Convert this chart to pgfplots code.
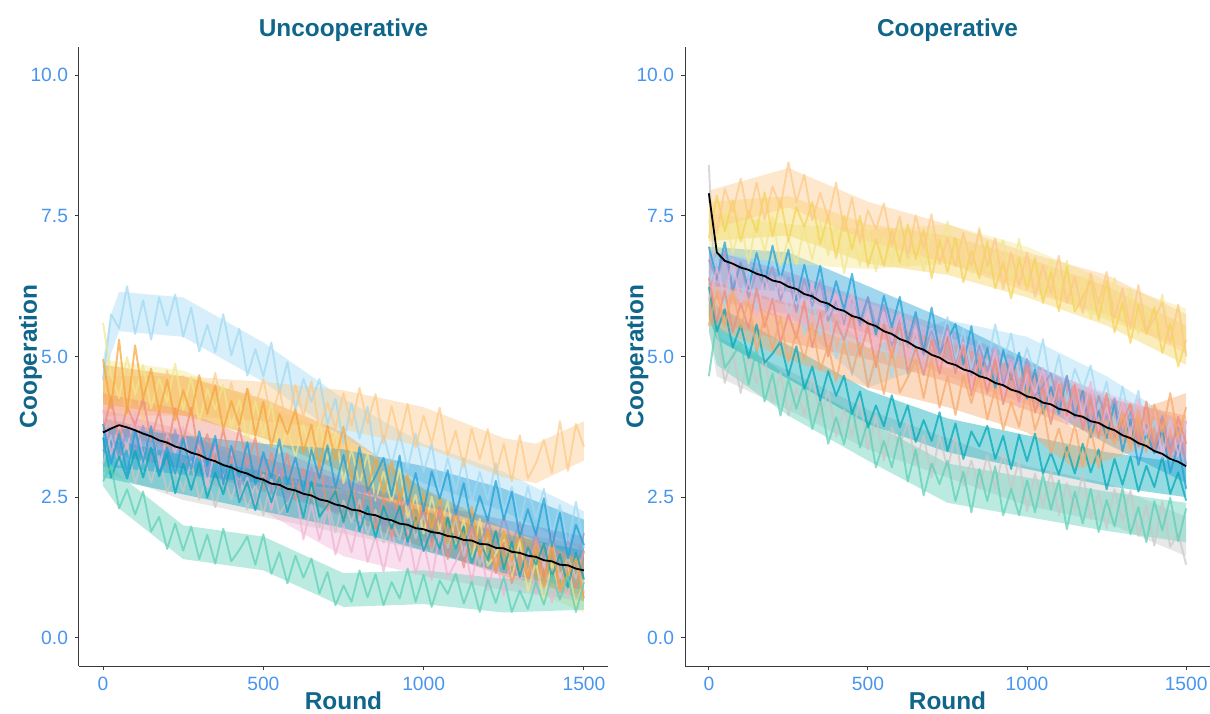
\documentclass[border=0pt]{standalone}
\usepackage{fontspec}
\setmainfont{Liberation Sans}
\usepackage{pgfplots}
\pgfplotsset{compat=1.18}

\definecolor{titleblue}{HTML}{0F668A}
\definecolor{tickblue}{HTML}{4895EF}
\definecolor{axisgray}{HTML}{3A3A3A}
\definecolor{cLightblue}{HTML}{9FD9F3}
\definecolor{cOrange}{HTML}{F5A53A}
\definecolor{cPeach}{HTML}{FDC987}
\definecolor{cYellow}{HTML}{F2E68D}
\definecolor{cGold}{HTML}{F5D35A}
\definecolor{cPink}{HTML}{F0B3D3}
\definecolor{cSalmon}{HTML}{EE8C7C}
\definecolor{cBlue}{HTML}{1F9FD6}
\definecolor{cTeal}{HTML}{00A8B8}
\definecolor{cGray}{HTML}{C8C8C8}
\definecolor{cMint}{HTML}{5CCFB6}
\definecolor{cPurple}{HTML}{9D97CB}
\definecolor{cOrangeB}{HTML}{F6A86A}

\pgfplotsset{
  panel/.style={
    scale only axis, anchor=south west, height=309.5pt,
    xmin=-75, xmax=1575, ymin=-0.5, ymax=10.5,
    axis lines=left,
    axis line style={-, draw=axisgray, line width=0.5pt},
    tick style={draw=axisgray, line width=0.5pt},
    tick align=outside, major tick length=2pt,
    xtick={0,500,1000,1500},
    xticklabels={0,500,1000,1500},
    ytick={0,2.5,5,7.5,10},
    yticklabels={0.0,2.5,5.0,7.5,10.0},
    /pgf/number format/assume math mode=true,
    ticklabel style={font=\fontsize{9.6}{10}\selectfont, text=tickblue},
    title style={font=\fontsize{12.2}{14}\selectfont\bfseries, text=titleblue,
      at={(axis description cs:0.5,1)}, anchor=base, yshift=-1pt},
    label style={font=\fontsize{12.2}{14}\selectfont\bfseries, text=titleblue},
    xlabel=Round, ylabel=Cooperation,
    xlabel style={at={(axis description cs:0.5,-0.0705)}, anchor=base},
    ylabel style={at={(axis description cs:-0.0794,0.5)}, anchor=base},
  },
  run/.style={#1, opacity=0.72, line width=0.95pt, line join=round},
  band/.style={fill=#1, fill opacity=0.42, draw=none},
  avg/.style={black, line width=0.9pt, line join=round},
}

\begin{document}
\begin{tikzpicture}
\useasboundingbox (0,0) rectangle (605pt,356.5pt);

% ---- left panel ----
\begin{axis}[panel, at={(39.5pt,23.5pt)}, width=264.5pt, title=Uncooperative]
% bands: spread of each run
\addplot[band=cLightblue] coordinates {(0,4.95)(25,5.75)(50,6.15)(250,6.05)(500,5.25)(750,4.25)(1000,3.45)(1250,2.95)(1500,2.25)(1500,1.55)(1250,2.25)(1000,2.75)(750,3.55)(500,4.55)(250,5.35)(50,5.45)(25,5.05)(0,4.25)} -- cycle;
\addplot[band=cGray] coordinates {(0,3.65)(250,3.15)(500,2.85)(750,2.55)(1000,2.25)(1250,1.9)(1500,1.65)(1500,0.95)(1250,1.2)(1000,1.55)(750,1.85)(500,2.15)(250,2.45)(0,2.95)} -- cycle;
\addplot[band=cPeach] coordinates {(0,4.65)(250,4.65)(500,4.55)(750,4.4)(1000,4.1)(1250,3.55)(1350,3.45)(1500,3.85)(1500,3.15)(1350,2.75)(1250,2.85)(1000,3.4)(750,3.7)(500,3.85)(250,3.95)(0,3.95)} -- cycle;
\addplot[band=cYellow] coordinates {(0,4.95)(250,4.75)(500,4.15)(750,3.55)(1000,2.65)(1250,1.75)(1500,1.15)(1500,0.45)(1250,1.05)(1000,1.95)(750,2.85)(500,3.45)(250,4.05)(0,4.25)} -- cycle;
\addplot[band=cPink] coordinates {(0,4.05)(250,3.7)(500,2.95)(750,2.15)(1000,1.8)(1250,1.55)(1500,1.35)(1500,0.65)(1250,0.85)(1000,1.1)(750,1.45)(500,2.25)(250,3.0)(0,3.35)} -- cycle;
\addplot[band=cPurple] coordinates {(0,3.9)(250,3.6)(500,3.2)(750,2.8)(1000,2.4)(1250,2.1)(1500,1.8)(1500,1.2)(1250,1.5)(1000,1.8)(750,2.2)(500,2.6)(250,3.0)(0,3.3)} -- cycle;
\addplot[band=cSalmon] coordinates {(0,4.35)(250,4.05)(500,3.45)(750,2.85)(1000,2.3)(1250,1.8)(1500,1.45)(1500,0.75)(1250,1.1)(1000,1.6)(750,2.15)(500,2.75)(250,3.35)(0,3.65)} -- cycle;
\addplot[band=cTeal] coordinates {(0,3.55)(250,3.25)(500,2.95)(750,2.65)(1000,2.25)(1250,1.85)(1500,1.55)(1500,0.85)(1250,1.15)(1000,1.55)(750,1.95)(500,2.25)(250,2.55)(0,2.85)} -- cycle;
\addplot[band=cOrange] coordinates {(0,4.85)(250,4.65)(500,4.25)(750,3.65)(1000,2.65)(1250,1.95)(1500,1.35)(1500,0.65)(1250,1.25)(1000,1.95)(750,2.95)(500,3.55)(250,3.95)(0,4.15)} -- cycle;
\addplot[band=cBlue] coordinates {(0,3.75)(250,3.6)(500,3.45)(750,3.35)(1000,3.05)(1250,2.65)(1500,2.1)(1500,1.4)(1250,1.95)(1000,2.35)(750,2.65)(500,2.75)(250,2.9)(0,3.05)} -- cycle;
\addplot[band=cMint] coordinates {(0,3.3)(50,2.9)(250,2.0)(500,1.8)(750,1.15)(1000,1.2)(1250,1.05)(1500,1.1)(1500,0.5)(1250,0.45)(1000,0.6)(750,0.55)(500,1.2)(250,1.4)(50,2.3)(0,2.7)} -- cycle;
% runs
\addplot[run=cLightblue] coordinates {(0,4.6)(25,5.75)(50,5.5)(75,6.25)(100,5.4)(125,6.0)(150,5.3)(175,6.05)(200,5.55)(225,6.1)(250,5.35)(275,5.87)(300,5.09)(325,5.56)(350,5.08)(375,5.75)(400,5.02)(425,5.49)(450,4.66)(475,5.13)(500,4.65)(525,5.25)(550,4.35)(575,4.9)(600,4.05)(625,4.6)(650,4.2)(675,4.6)(700,3.8)(725,4.25)(750,3.45)(775,4.17)(800,3.54)(825,4.11)(850,3.18)(875,3.6)(900,3.07)(925,3.64)(950,3.01)(975,3.63)(1000,2.95)(1025,3.45)(1050,2.55)(1075,3.2)(1100,2.6)(1125,3.2)(1150,2.4)(1175,2.95)(1200,2.45)(1225,3.1)(1250,2.25)(1275,2.68)(1300,2.01)(1325,2.69)(1350,2.12)(1375,2.65)(1400,1.83)(1425,2.36)(1450,1.64)(1475,2.42)(1500,1.6)};
\addplot[run=cGray] coordinates {(0,3.1)(25,3.61)(50,3.08)(75,3.47)(100,2.74)(125,3.25)(150,2.76)(175,3.23)(200,2.58)(225,3.01)(250,2.6)(275,3.13)(300,2.46)(325,2.83)(350,2.32)(375,2.89)(400,2.46)(425,2.91)(450,2.28)(475,2.73)(500,2.18)(525,2.83)(550,2.2)(575,2.41)(600,2.66)(625,2.11)(650,2.68)(675,1.97)(700,2.42)(725,1.87)(750,2.44)(775,2.05)(800,2.46)(825,1.83)(850,2.28)(875,1.69)(900,2.1)(925,1.75)(950,2.32)(975,1.77)(1000,2.18)(1025,1.55)(1050,1.95)(1075,1.6)(1100,2.12)(1125,1.45)(1150,1.93)(1175,1.3)(1200,1.78)(1225,1.51)(1250,1.87)(1275,1.29)(1300,1.7)(1325,1.12)(1350,1.73)(1375,1.27)(1400,1.76)(1425,1.06)(1450,1.43)(1475,1.05)(1500,1.54)};
\addplot[run=cPeach] coordinates {(0,4.6)(25,4.15)(50,4.7)(75,3.95)(100,4.55)(125,3.85)(150,4.4)(175,4.0)(200,4.75)(225,4.1)(250,4.65)(275,3.89)(300,4.43)(325,4.02)(350,4.71)(375,3.9)(400,4.54)(425,3.78)(450,4.42)(475,4.11)(500,4.6)(525,3.89)(550,4.42)(575,3.71)(600,4.49)(625,3.93)(650,4.56)(675,3.7)(700,4.18)(725,3.72)(750,4.35)(775,3.77)(800,4.44)(825,3.81)(850,4.33)(875,3.45)(900,4.12)(925,3.54)(950,4.16)(975,3.38)(1000,3.95)(1025,3.45)(1050,4.09)(1075,3.24)(1100,3.68)(1125,3.03)(1150,3.72)(1175,3.17)(1200,3.71)(1225,2.91)(1250,3.45)(1275,2.78)(1300,3.6)(1325,2.83)(1350,3.1)(1375,3.52)(1400,2.93)(1425,3.85)(1450,2.97)(1475,3.8)(1500,3.4)};
\addplot[run=cYellow] coordinates {(0,5.6)(25,4.68)(50,4.26)(75,4.99)(100,4.32)(125,4.85)(150,4.08)(175,4.61)(200,4.19)(225,4.87)(250,4.05)(275,4.64)(300,3.83)(325,4.42)(350,4.06)(375,4.5)(400,3.74)(425,4.23)(450,3.47)(475,4.21)(500,3.6)(525,4.19)(550,3.28)(575,3.72)(600,3.21)(625,3.8)(650,3.19)(675,3.83)(700,3.17)(725,3.66)(750,2.75)(775,3.36)(800,2.72)(825,3.28)(850,2.44)(875,2.95)(900,2.41)(925,3.02)(950,2.13)(975,2.54)(1000,1.85)(1025,2.51)(1050,1.92)(1075,2.43)(1100,1.59)(1125,2.1)(1150,1.36)(1175,2.12)(1200,1.28)(1225,1.49)(1250,1.75)(1275,1.04)(1300,1.73)(1325,0.82)(1350,1.36)(1375,0.65)(1400,1.34)(1425,0.83)(1450,1.32)(1475,0.51)(1500,1.05)};
\addplot[run=cPink] coordinates {(0,4.05)(25,3.27)(50,3.78)(75,3.35)(100,4.01)(125,3.18)(150,3.79)(175,3.01)(200,3.62)(225,3.29)(250,3.75)(275,2.98)(300,3.45)(325,2.68)(350,3.4)(375,2.78)(400,3.35)(425,2.43)(450,2.85)(475,2.33)(500,2.9)(525,2.27)(550,2.89)(575,2.21)(600,2.68)(625,1.75)(650,2.37)(675,1.74)(700,2.31)(725,1.48)(750,2.0)(775,1.52)(800,2.18)(825,1.35)(850,1.81)(875,1.18)(900,1.89)(925,1.36)(950,1.92)(975,1.14)(1000,1.7)(1025,1.03)(1050,1.85)(1075,1.08)(1100,1.35)(1125,1.68)(1150,1.0)(1175,1.73)(1200,0.85)(1225,1.43)(1250,0.75)(1275,1.48)(1300,1.01)(1325,1.54)(1350,0.77)(1375,1.35)(1400,0.63)(1425,1.16)(1450,0.74)(1475,1.47)(1500,0.8)};
\addplot[run=cPurple] coordinates {(0,3.32)(25,3.69)(50,3.18)(75,3.75)(100,3.32)(125,3.77)(150,3.14)(175,3.59)(200,3.04)(225,3.69)(250,3.06)(275,3.26)(300,3.5)(325,2.94)(350,3.5)(375,2.78)(400,3.22)(425,2.66)(450,3.22)(475,2.82)(500,3.22)(525,2.58)(550,3.02)(575,2.42)(600,2.82)(625,2.46)(650,3.02)(675,2.46)(700,2.86)(725,2.22)(750,2.62)(775,2.26)(800,2.78)(825,2.1)(850,2.58)(875,1.94)(900,2.42)(925,2.14)(950,2.5)(975,1.9)(1000,2.3)(1025,1.71)(1050,2.32)(1075,1.85)(1100,2.34)(1125,1.63)(1150,2.0)(1175,1.61)(1200,2.1)(1225,1.63)(1250,2.16)(1275,1.65)(1300,2.06)(1325,1.35)(1350,1.88)(1375,1.41)(1400,1.9)(1425,1.27)(1450,1.72)(1475,1.33)(1500,1.86)};
\addplot[run=cSalmon] coordinates {(0,3.65)(25,4.27)(50,3.49)(75,4.11)(100,3.78)(125,4.25)(150,3.52)(175,4.04)(200,3.31)(225,4.08)(250,3.5)(275,4.09)(300,3.18)(325,3.62)(350,3.11)(375,3.7)(400,3.09)(425,3.73)(450,3.07)(475,3.56)(500,2.65)(525,3.29)(550,2.68)(575,3.27)(600,2.46)(625,3.0)(650,2.49)(675,3.13)(700,2.27)(725,2.71)(750,2.05)(775,2.75)(800,2.19)(825,2.74)(850,1.93)(875,2.48)(900,1.77)(925,2.57)(950,1.76)(975,2.01)(1000,2.3)(1025,1.6)(1050,2.3)(1075,1.4)(1100,1.95)(1125,1.25)(1150,1.95)(1175,1.45)(1200,1.95)(1225,1.15)(1250,1.7)(1275,0.97)(1300,1.48)(1325,1.05)(1350,1.76)(1375,1.08)(1400,1.59)(1425,0.81)(1450,1.32)(1475,0.89)(1500,1.55)};
\addplot[run=cTeal] coordinates {(0,3.56)(25,2.85)(50,3.22)(75,2.83)(100,3.32)(125,2.85)(150,3.38)(175,2.87)(200,3.28)(225,2.57)(250,3.1)(275,2.63)(300,3.12)(325,2.49)(350,2.94)(375,2.55)(400,3.08)(425,2.41)(450,2.78)(475,2.27)(500,2.84)(525,2.41)(550,2.86)(575,2.23)(600,2.68)(625,2.13)(650,2.78)(675,2.15)(700,2.36)(725,2.61)(750,2.06)(775,2.62)(800,1.9)(825,2.34)(850,1.78)(875,2.34)(900,1.94)(925,2.34)(950,1.7)(975,2.14)(1000,1.54)(1025,1.94)(1050,1.58)(1075,2.14)(1100,1.58)(1125,1.98)(1150,1.34)(1175,1.74)(1200,1.38)(1225,1.9)(1250,1.22)(1275,1.71)(1300,1.08)(1325,1.61)(1350,1.3)(1375,1.67)(1400,1.08)(1425,1.49)(1450,0.9)(1475,1.51)(1500,1.04)};
\addplot[run=cOrange] coordinates {(0,4.95)(25,4.08)(50,5.3)(75,3.99)(100,5.2)(125,4.25)(150,4.78)(175,4.01)(200,4.59)(225,3.87)(250,4.4)(275,3.96)(300,4.67)(325,3.98)(350,4.49)(375,3.7)(400,4.21)(425,3.77)(450,4.43)(475,3.59)(500,4.2)(525,3.39)(550,3.98)(575,3.62)(600,4.06)(625,3.3)(650,3.79)(675,3.03)(700,3.77)(725,3.16)(750,3.75)(775,2.8)(800,3.2)(825,2.65)(850,3.2)(875,2.55)(900,3.15)(925,2.45)(950,2.9)(975,1.95)(1000,2.55)(1025,1.93)(1050,2.51)(1075,1.69)(1100,2.22)(1125,1.7)(1150,2.33)(1175,1.46)(1200,1.89)(1225,1.22)(1250,1.9)(1275,1.34)(1300,1.88)(1325,1.07)(1350,1.61)(1375,0.9)(1400,1.69)(1425,0.88)(1450,1.12)(1475,1.41)(1500,0.7)};
\addplot[run=cBlue] coordinates {(0,3.8)(25,3.09)(50,3.62)(75,2.91)(100,3.69)(125,3.13)(150,3.76)(175,2.9)(200,3.38)(225,2.92)(250,3.55)(275,2.99)(300,3.67)(325,3.06)(350,3.59)(375,2.73)(400,3.41)(425,2.85)(450,3.48)(475,2.72)(500,3.3)(525,2.84)(550,3.53)(575,2.72)(600,3.21)(625,2.6)(650,3.34)(675,2.83)(700,3.42)(725,2.66)(750,3.25)(775,2.57)(800,3.39)(825,2.61)(850,2.88)(875,3.2)(900,2.52)(925,3.24)(950,2.36)(975,2.93)(1000,2.25)(1025,2.96)(1050,2.47)(1075,2.98)(1100,2.19)(1125,2.75)(1150,2.01)(1175,2.52)(1200,2.08)(1225,2.79)(1250,2.1)(1275,2.6)(1300,1.79)(1325,2.29)(1350,1.83)(1375,2.48)(1400,1.62)(1425,2.22)(1450,1.41)(1475,2.01)(1500,1.65)};
\addplot[run=cMint] coordinates {(0,2.78)(25,3.06)(50,2.3)(75,2.64)(100,2.19)(125,2.6)(150,1.89)(175,2.15)(200,1.58)(225,2.03)(250,1.55)(275,1.98)(300,1.4)(325,1.83)(350,1.32)(375,1.94)(400,1.36)(425,1.56)(450,1.8)(475,1.3)(500,1.84)(525,1.14)(550,1.52)(575,0.97)(600,1.46)(625,1.07)(650,1.41)(675,0.79)(700,1.17)(725,0.58)(750,0.93)(775,0.64)(800,1.2)(825,0.72)(850,1.13)(875,0.58)(900,0.99)(925,0.7)(950,1.23)(975,0.64)(1000,1.12)(1025,0.55)(1050,1.02)(1075,0.78)(1100,1.14)(1125,0.61)(1150,1.0)(1175,0.46)(1200,1.04)(1225,0.62)(1250,1.09)(1275,0.46)(1300,0.84)(1325,0.51)(1350,0.99)(1375,0.59)(1400,1.12)(1425,0.68)(1450,1.09)(1475,0.46)(1500,0.99)};
\addplot[avg] coordinates {(0,3.65)(25,3.72)(50,3.78)(75,3.74)(100,3.69)(125,3.63)(150,3.58)(175,3.51)(200,3.47)(225,3.40)(250,3.36)(275,3.29)(300,3.25)(325,3.18)(350,3.14)(375,3.07)(400,3.03)(425,2.96)(450,2.92)(475,2.85)(500,2.81)(525,2.74)(550,2.72)(575,2.65)(600,2.62)(625,2.56)(650,2.53)(675,2.46)(700,2.43)(725,2.37)(750,2.34)(775,2.28)(800,2.26)(825,2.2)(850,2.18)(875,2.12)(900,2.09)(925,2.03)(950,2.01)(975,1.95)(1000,1.93)(1025,1.88)(1050,1.86)(1075,1.81)(1100,1.79)(1125,1.74)(1150,1.73)(1175,1.67)(1200,1.66)(1225,1.6)(1250,1.59)(1275,1.53)(1300,1.51)(1325,1.46)(1350,1.44)(1375,1.38)(1400,1.36)(1425,1.3)(1450,1.29)(1475,1.23)(1500,1.2)};
\end{axis}

% ---- right panel ----
\begin{axis}[panel, at={(342.5pt,23.5pt)}, width=262.5pt, title=Cooperative]
% bands: spread of each run
\addplot[band=cGray] coordinates {(0,6.15)(25,5.35)(250,4.75)(500,4.05)(750,3.55)(1000,3.05)(1250,2.75)(1500,2.15)(1500,1.45)(1250,2.05)(1000,2.35)(750,2.85)(500,3.35)(250,4.05)(25,4.65)(0,5.45)} -- cycle;
\addplot[band=cMint] coordinates {(0,6.15)(25,5.55)(250,4.65)(500,3.85)(750,3.1)(1000,2.85)(1250,2.6)(1500,2.4)(1500,1.7)(1250,1.9)(1000,2.15)(750,2.4)(500,3.15)(250,3.95)(25,4.85)(0,5.45)} -- cycle;
\addplot[band=cTeal] coordinates {(0,6.3)(25,5.9)(250,5.2)(500,4.4)(750,3.9)(1000,3.6)(1250,3.3)(1500,3.1)(1500,2.5)(1250,2.7)(1000,3.0)(750,3.3)(500,3.8)(250,4.6)(25,5.3)(0,5.7)} -- cycle;
\addplot[band=cLightblue] coordinates {(0,6.75)(250,6.45)(500,5.15)(750,5.65)(1000,5.35)(1250,4.65)(1500,3.75)(1500,3.05)(1250,3.95)(1000,4.65)(750,4.95)(500,4.45)(250,5.75)(0,6.05)} -- cycle;
\addplot[band=cBlue] coordinates {(0,6.95)(250,6.85)(500,6.25)(750,5.65)(1000,4.95)(1250,4.15)(1500,3.45)(1500,2.75)(1250,3.45)(1000,4.25)(750,4.95)(500,5.55)(250,6.15)(0,6.25)} -- cycle;
\addplot[band=cPurple] coordinates {(0,6.9)(250,6.5)(500,6.0)(750,5.5)(1000,4.9)(1250,4.3)(1500,3.7)(1500,3.1)(1250,3.7)(1000,4.3)(750,4.9)(500,5.4)(250,5.9)(0,6.3)} -- cycle;
\addplot[band=cPink] coordinates {(0,6.75)(250,6.35)(500,5.95)(750,5.35)(1000,4.85)(1250,4.35)(1500,3.85)(1500,3.15)(1250,3.65)(1000,4.15)(750,4.65)(500,5.25)(250,5.65)(0,6.05)} -- cycle;
\addplot[band=cSalmon] coordinates {(0,6.35)(250,5.95)(500,5.65)(750,5.25)(1000,4.75)(1250,4.25)(1500,3.95)(1500,3.25)(1250,3.55)(1000,4.05)(750,4.55)(500,4.95)(250,5.25)(0,5.65)} -- cycle;
\addplot[band=cOrangeB] coordinates {(0,6.25)(250,5.65)(500,5.15)(750,4.8)(1000,4.35)(1150,3.7)(1250,3.85)(1500,4.35)(1500,3.65)(1250,3.15)(1150,3.0)(1000,3.65)(750,4.1)(500,4.45)(250,4.95)(0,5.55)} -- cycle;
\addplot[band=cYellow] coordinates {(0,7.55)(250,7.35)(500,7.25)(750,7.35)(1000,6.95)(1250,6.35)(1500,5.85)(1500,5.15)(1250,5.65)(1000,6.25)(750,6.65)(500,6.55)(250,6.65)(0,6.85)} -- cycle;
\addplot[band=cGold] coordinates {(0,7.75)(250,7.85)(500,7.35)(750,7.15)(1000,6.75)(1250,6.25)(1500,5.55)(1500,4.85)(1250,5.55)(1000,6.05)(750,6.45)(500,6.65)(250,7.15)(0,7.05)} -- cycle;
\addplot[band=cPeach] coordinates {(0,7.95)(250,8.35)(500,7.75)(750,7.35)(1000,6.85)(1250,6.45)(1500,5.75)(1500,5.05)(1250,5.75)(1000,6.15)(750,6.65)(500,7.05)(250,7.65)(0,7.25)} -- cycle;
% runs
\addplot[run=cGray] coordinates {(0,8.4)(25,5.45)(50,4.53)(75,5.07)(100,4.35)(125,5.03)(150,4.52)(175,5.0)(200,4.18)(225,4.72)(250,3.95)(275,4.43)(300,3.96)(325,4.64)(350,3.92)(375,4.4)(400,3.58)(425,4.06)(450,3.59)(475,4.22)(500,3.35)(525,3.95)(550,3.15)(575,3.75)(600,3.4)(625,3.85)(650,3.1)(675,3.6)(700,2.85)(725,3.6)(750,3.0)(775,3.6)(800,2.7)(825,3.15)(850,2.65)(875,3.25)(900,2.65)(925,3.3)(950,2.65)(975,3.15)(1000,2.25)(1025,2.92)(1050,2.34)(1075,2.96)(1100,2.18)(1125,2.75)(1150,2.27)(1175,2.94)(1200,2.11)(1225,2.58)(1250,1.95)(1275,2.64)(1300,2.08)(1325,2.62)(1350,1.81)(1375,2.35)(1400,1.64)(1425,2.43)(1450,1.62)(1475,1.86)(1500,1.3)};
\addplot[run=cMint] coordinates {(0,4.65)(25,5.65)(50,4.8)(75,5.0)(100,5.25)(125,4.5)(150,5.15)(175,4.2)(200,4.7)(225,3.95)(250,4.6)(275,4.07)(300,4.54)(325,3.71)(350,4.23)(375,3.45)(400,3.92)(425,3.44)(450,4.11)(475,3.38)(500,3.85)(525,3.03)(550,3.5)(575,3.03)(600,3.65)(625,2.78)(650,3.35)(675,2.53)(700,3.1)(725,2.73)(750,3.15)(775,2.43)(800,2.95)(825,2.23)(850,3.0)(875,2.43)(900,3.05)(925,2.18)(950,2.65)(975,2.18)(1000,2.8)(1025,2.23)(1050,2.9)(1075,2.28)(1100,2.8)(1125,1.93)(1150,2.6)(1175,2.03)(1200,2.65)(1225,1.88)(1250,2.45)(1275,1.98)(1300,2.66)(1325,1.84)(1350,2.32)(1375,1.7)(1400,2.43)(1425,1.91)(1450,2.49)(1475,1.72)(1500,2.3)};
\addplot[run=cTeal] coordinates {(0,6.24)(25,5.44)(50,5.84)(75,5.16)(100,5.56)(125,4.97)(150,5.57)(175,4.89)(200,5.05)(225,5.26)(250,4.66)(275,5.18)(300,4.42)(325,4.82)(350,4.22)(375,4.74)(400,4.3)(425,4.66)(450,3.98)(475,4.38)(500,3.74)(525,4.13)(550,3.76)(575,4.31)(600,3.74)(625,4.13)(650,3.48)(675,3.87)(700,3.5)(725,4.01)(750,3.32)(775,3.81)(800,3.18)(825,3.67)(850,3.4)(875,3.77)(900,3.18)(925,3.59)(950,3.0)(975,3.61)(1000,3.14)(1025,3.63)(1050,2.92)(1075,3.29)(1100,2.9)(1125,3.39)(1150,2.92)(1175,3.45)(1200,2.94)(1225,3.35)(1250,2.64)(1275,3.18)(1300,2.72)(1325,3.22)(1350,2.6)(1375,3.06)(1400,2.68)(1425,3.22)(1450,2.56)(1475,2.94)(1500,2.44)};
\addplot[run=cLightblue] coordinates {(0,6.25)(25,6.77)(50,5.89)(75,6.56)(100,5.98)(125,6.6)(150,5.82)(175,6.39)(200,5.91)(225,6.58)(250,5.75)(275,6.12)(300,5.39)(325,6.01)(350,5.38)(375,5.85)(400,4.97)(425,5.44)(450,4.66)(475,5.38)(500,4.5)(525,4.85)(550,5.25)(575,4.65)(600,5.45)(625,4.65)(650,5.3)(675,4.7)(700,5.5)(725,5.1)(750,5.7)(775,4.92)(800,5.49)(825,4.76)(850,5.28)(875,4.85)(900,5.57)(925,4.89)(950,5.41)(975,4.63)(1000,5.15)(1025,4.68)(1050,5.31)(1075,4.44)(1100,5.02)(1125,4.2)(1150,4.78)(1175,4.41)(1200,4.84)(1225,4.07)(1250,4.55)(1275,3.76)(1300,4.47)(1325,3.83)(1350,4.39)(1375,3.45)(1400,3.86)(1425,3.32)(1450,3.88)(1475,3.24)(1500,3.85)};
\addplot[run=cBlue] coordinates {(0,6.95)(25,6.39)(50,7.03)(75,6.17)(100,6.66)(125,6.2)(150,6.84)(175,6.28)(200,6.97)(225,6.36)(250,6.9)(275,5.99)(300,6.63)(325,6.02)(350,6.61)(375,5.8)(400,6.34)(425,5.83)(450,6.47)(475,5.61)(500,6.05)(525,5.39)(550,6.08)(575,5.52)(600,6.06)(625,5.25)(650,5.79)(675,5.08)(700,5.87)(725,5.06)(750,5.3)(775,5.58)(800,4.86)(825,5.54)(850,4.62)(875,5.15)(900,4.43)(925,5.11)(950,4.59)(975,5.07)(1000,4.25)(1025,4.77)(1050,3.99)(1075,4.46)(1100,3.98)(1125,4.65)(1150,3.92)(1175,4.39)(1200,3.56)(1225,4.03)(1250,3.55)(1275,4.18)(1300,3.31)(1325,3.89)(1350,3.07)(1375,3.65)(1400,3.28)(1425,3.71)(1450,2.94)(1475,3.42)(1500,2.65)};
\addplot[run=cPurple] coordinates {(0,6.72)(25,6.36)(50,6.88)(75,6.2)(100,6.68)(125,6.04)(150,6.52)(175,6.24)(200,6.6)(225,6.0)(250,6.4)(275,5.79)(300,6.38)(325,5.89)(350,6.36)(375,5.63)(400,5.98)(425,5.57)(450,6.04)(475,5.55)(500,6.06)(525,5.53)(550,5.92)(575,5.19)(600,5.7)(625,5.21)(650,5.68)(675,5.03)(700,5.46)(725,5.05)(750,5.56)(775,4.86)(800,5.2)(825,4.66)(850,5.2)(875,4.74)(900,5.16)(925,4.5)(950,4.92)(975,4.34)(1000,4.96)(1025,4.3)(1050,4.48)(1075,4.7)(1100,4.12)(1125,4.66)(1150,3.92)(1175,4.34)(1200,3.76)(1225,4.3)(1250,3.88)(1275,4.26)(1300,3.6)(1325,4.02)(1350,3.4)(1375,3.78)(1400,3.4)(1425,3.94)(1450,3.36)(1475,3.74)(1500,3.08)};
\addplot[run=cPink] coordinates {(0,6.0)(25,6.56)(50,6.07)(75,6.73)(100,5.89)(125,6.35)(150,5.71)(175,6.42)(200,5.88)(225,6.44)(250,5.65)(275,6.21)(300,5.52)(325,6.33)(350,5.54)(375,5.8)(400,6.11)(425,5.42)(450,6.13)(475,5.24)(500,5.8)(525,5.09)(550,5.78)(575,5.27)(600,5.76)(625,4.95)(650,5.49)(675,4.73)(700,5.22)(725,4.76)(750,5.45)(775,4.75)(800,5.25)(825,4.45)(850,4.95)(875,4.5)(900,5.15)(925,4.3)(950,4.9)(975,4.1)(1000,4.7)(1025,4.35)(1050,4.8)(1075,4.05)(1100,4.55)(1125,3.8)(1150,4.55)(1175,3.95)(1200,4.55)(1225,3.65)(1250,4.1)(1275,3.6)(1300,4.2)(1325,3.6)(1350,4.25)(1375,3.6)(1400,4.1)(1425,3.2)(1450,3.85)(1475,3.25)(1500,3.85)};
\addplot[run=cSalmon] coordinates {(0,6.4)(25,5.61)(50,6.17)(75,5.43)(100,5.94)(125,5.5)(150,6.21)(175,5.52)(200,6.03)(225,5.24)(250,5.75)(275,5.32)(300,5.99)(325,5.16)(350,5.78)(375,5.0)(400,5.62)(425,5.29)(450,5.76)(475,5.03)(500,5.55)(525,4.81)(550,5.57)(575,4.98)(600,5.59)(625,4.7)(650,5.16)(675,4.67)(700,5.28)(725,4.69)(750,5.35)(775,4.7)(800,5.2)(825,4.3)(850,4.95)(875,4.35)(900,4.95)(925,4.15)(950,4.7)(975,4.2)(1000,4.85)(1025,4.0)(1050,4.45)(1075,3.8)(1100,4.5)(1125,3.95)(1150,4.5)(1175,3.7)(1200,4.25)(1225,3.55)(1250,4.35)(1275,3.57)(1300,3.84)(1325,4.16)(1350,3.48)(1375,4.2)(1400,3.32)(1425,3.89)(1450,3.21)(1475,3.93)(1500,3.45)};
\addplot[run=cOrangeB] coordinates {(0,5.55)(25,6.14)(50,5.53)(75,6.17)(100,5.51)(125,6.0)(150,5.09)(175,5.73)(200,5.12)(225,5.71)(250,4.9)(275,5.45)(300,4.95)(325,5.6)(350,4.75)(375,5.2)(400,4.55)(425,5.25)(450,4.7)(475,5.25)(500,4.45)(525,5.02)(550,4.33)(575,5.15)(600,4.36)(625,4.63)(650,4.94)(675,4.26)(700,4.97)(725,4.09)(750,4.65)(775,3.96)(800,4.66)(825,4.17)(850,4.67)(875,3.88)(900,4.43)(925,3.69)(950,4.19)(975,3.75)(1000,4.45)(1025,3.69)(1050,4.13)(1075,3.28)(1100,3.72)(1125,3.21)(1150,3.8)(1175,3.04)(1200,3.73)(1225,3.01)(1250,3.7)(1275,3.45)(1300,4.0)(1325,3.35)(1350,3.95)(1375,3.3)(1400,4.15)(1425,3.65)(1450,4.35)(1475,3.55)(1500,4.1)};
\addplot[run=cYellow] coordinates {(0,7.4)(25,7.08)(50,7.56)(75,6.84)(100,7.37)(125,6.65)(150,7.43)(175,6.86)(200,7.49)(225,6.62)(250,7.1)(275,6.64)(300,7.28)(325,6.72)(350,7.41)(375,6.8)(400,7.34)(425,6.48)(450,7.17)(475,6.61)(500,7.25)(525,6.51)(550,7.12)(575,6.68)(600,7.39)(625,6.6)(650,7.11)(675,6.52)(700,7.28)(725,6.79)(750,7.4)(775,6.61)(800,7.17)(825,6.48)(850,7.29)(875,6.5)(900,6.76)(925,7.07)(950,6.38)(975,7.09)(1000,6.2)(1025,6.74)(1050,6.03)(1075,6.72)(1100,6.21)(1125,6.7)(1150,5.89)(1175,6.43)(1200,5.67)(1225,6.16)(1250,5.7)(1275,6.4)(1300,5.7)(1325,6.2)(1350,5.4)(1375,5.9)(1400,5.45)(1425,6.1)(1450,5.25)(1475,5.85)(1500,5.05)};
\addplot[run=cGold] coordinates {(0,7.1)(25,7.86)(50,7.22)(75,7.78)(100,7.04)(125,7.6)(150,7.21)(175,7.92)(200,7.13)(225,7.79)(250,7.05)(275,7.65)(300,7.3)(325,7.75)(350,7.0)(375,7.5)(400,6.75)(425,7.5)(450,6.9)(475,7.5)(500,6.6)(525,7.08)(550,6.61)(575,7.24)(600,6.67)(625,7.35)(650,6.73)(675,7.26)(700,6.39)(725,7.07)(750,6.5)(775,7.11)(800,6.32)(825,6.88)(850,6.39)(875,7.05)(900,6.21)(925,6.67)(950,6.03)(975,6.74)(1000,6.2)(1025,6.75)(1050,5.95)(1075,6.5)(1100,5.8)(1125,6.6)(1150,5.8)(1175,6.05)(1200,6.35)(1225,5.65)(1250,6.35)(1275,5.43)(1300,5.96)(1325,5.24)(1350,5.92)(1375,5.4)(1400,5.88)(1425,5.06)(1450,5.59)(1475,4.82)(1500,5.3)};
\addplot[run=cPeach] coordinates {(0,7.8)(25,7.19)(50,7.98)(75,7.57)(100,8.16)(125,7.45)(150,8.09)(175,7.43)(200,8.02)(225,7.66)(250,8.45)(275,7.74)(300,8.23)(325,7.42)(350,7.91)(375,7.45)(400,8.09)(425,7.23)(450,7.82)(475,7.01)(500,7.6)(525,7.26)(550,7.72)(575,6.98)(600,7.49)(625,6.75)(650,7.51)(675,6.92)(700,7.53)(725,6.64)(750,7.1)(775,6.6)(800,7.2)(825,6.6)(850,7.25)(875,6.6)(900,7.1)(925,6.2)(950,6.85)(975,6.25)(1000,6.85)(1025,6.06)(1050,6.62)(1075,6.13)(1100,6.79)(1125,5.95)(1150,6.41)(1175,5.77)(1200,6.48)(1225,5.94)(1250,6.5)(1275,5.68)(1300,6.21)(1325,5.49)(1350,6.27)(1375,5.45)(1400,5.68)(1425,5.96)(1450,5.24)(1475,5.92)(1500,5.0)};
\addplot[avg] coordinates {(0,7.9)(25,6.85)(50,6.7)(75,6.65)(100,6.58)(125,6.54)(150,6.47)(175,6.43)(200,6.35)(225,6.32)(250,6.24)(275,6.2)(300,6.11)(325,6.07)(350,5.98)(375,5.94)(400,5.85)(425,5.81)(450,5.72)(475,5.68)(500,5.59)(525,5.54)(550,5.45)(575,5.4)(600,5.31)(625,5.26)(650,5.17)(675,5.12)(700,5.03)(725,4.98)(750,4.89)(775,4.85)(800,4.77)(825,4.73)(850,4.65)(875,4.61)(900,4.53)(925,4.49)(950,4.41)(975,4.37)(1000,4.29)(1025,4.26)(1050,4.18)(1075,4.15)(1100,4.07)(1125,4.04)(1150,3.96)(1175,3.93)(1200,3.85)(1225,3.82)(1250,3.74)(1275,3.69)(1300,3.6)(1325,3.55)(1350,3.46)(1375,3.41)(1400,3.32)(1425,3.27)(1450,3.18)(1475,3.13)(1500,3.05)};
\end{axis}
\end{tikzpicture}
\end{document}
